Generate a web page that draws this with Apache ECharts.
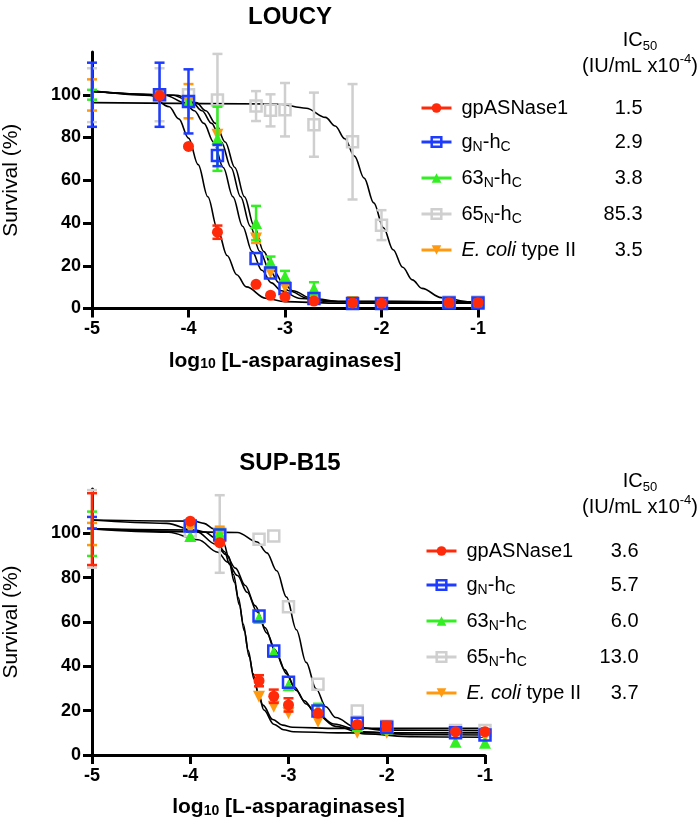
<!DOCTYPE html>
<html><head><meta charset="utf-8">
<script src="https://cdn.jsdelivr.net/npm/echarts@6/dist/echarts.min.js"></script>
<style>html,body{margin:0;padding:0;background:#fff}#c{width:700px;height:827px}</style>
</head><body><div id="c"></div>
<script>
// ---------- data ----------
const seriesNames = ['gpASNase1', 'gN-hC', '63N-hC', '65N-hC', 'E. coli type II'];
const yTicks = [0, 20, 40, 60, 80, 100];
const xTicks = [-5, -4, -3, -2, -1];

// LOUCY (top)
const loucyX = [-5, -4.3, -4, -3.7, -3.3, -3.15, -3, -2.7, -2.3, -2, -1.3, -1];
const loucyRed = [100, 99.6, 75.8, 35.7, 11.3, 6.2, 5.4, 3.5, 2.6, 2.5, 2.7, 2.7];
const loucyRedErr = [0, 0, 0, 3.1, 0, 0, 0, 0, 0, 0, 0, 0];
const loucyBlue = [100, 100, 96.9, 71.6, 23.4, 16.6, 9.3, 4.7, 2.3, 2.3, 2.6, 2.6];
const loucyBlueErr = [15, 15, 15, 5, 0, 0, 0, 0, 0, 0, 0, 0];
const loucyGreen = [100, 100, 97, 79.4, 40, 21.8, 15.1, 9.3, 3, 2.5, 2.7, 2.7];
const loucyGreenErr = [2.3, 0, 0, 15, 8, 2.5, 2.5, 3, 0, 0, 0, 0];
const loucyGrey = [99.8, 100, 100, 97.6, 94.7, 92.7, 93, 86, 78, 39, 3, 3];
const loucyGreyErr = [12.6, 12.4, 0, 21.5, 7, 7.5, 12.5, 15, 27, 7, 0, 0];
const loucyOrange = [99.9, 100, 97, 81.3, 32.7, 16.8, 10.1, 4.5, 3, 2.5, 2.7, 2.7];
const loucyOrangeErr = [7.3, 0, 8, 0, 2, 0, 0, 0, 0, 0, 0, 0];
const loucyIC50 = ['1.5', '2.9', '3.8', '85.3', '3.5'];

// LOUCY fitted curves
const loucyRedCurveX = [-5, -4.4, -4.2, -4.1, -4.0, -3.9, -3.8, -3.7, -3.6, -3.5, -3.4, -3.2, -3.0, -2.5, -1];
const loucyRedCurveY = [102, 99.7, 94.4, 88.7, 79.7, 67.3, 52.3, 37.2, 24.8, 15.8, 10.1, 4.8, 3.2, 2.5, 2.5];
const loucyBlueCurveX = [-5, -4.24, -4.04, -3.94, -3.84, -3.74, -3.64, -3.54, -3.44, -3.34, -3.24, -3.14, -3.04, -2.84, -2.54, -1];
const loucyBlueCurveY = [101.5, 99.8, 96.3, 92.5, 86.6, 77.9, 66.0, 52.3, 38.5, 26.6, 17.9, 12.0, 8.3, 4.7, 3.3, 3.0];
const loucyGreenCurveX = [-5, -4.12, -3.92, -3.82, -3.72, -3.62, -3.52, -3.42, -3.32, -3.22, -3.12, -3.02, -2.92, -2.72, -2.42, -1];
const loucyGreenCurveY = [101.5, 99.8, 96.3, 92.5, 86.6, 77.9, 66.0, 52.3, 38.5, 26.6, 17.9, 12.0, 8.3, 4.7, 3.3, 3.0];
const loucyGreyCurveX = [-5, -3.08, -2.78, -2.58, -2.48, -2.38, -2.28, -2.18, -2.08, -1.98, -1.88, -1.78, -1.68, -1.58, -1.38, -1.08, -1];
const loucyGreyCurveY = [96.3, 95.7, 93.7, 89.4, 85.4, 79.4, 71.3, 61.0, 49.4, 37.8, 27.5, 19.3, 13.4, 9.4, 5.1, 3.1, 3.0];
const loucyOrangeCurveX = [-5, -4.16, -3.96, -3.86, -3.76, -3.66, -3.56, -3.46, -3.36, -3.26, -3.16, -3.06, -2.96, -2.76, -2.46, -1];
const loucyOrangeCurveY = [101.5, 99.8, 96.3, 92.5, 86.6, 77.9, 66.0, 52.3, 38.5, 26.6, 17.9, 12.0, 8.3, 4.7, 3.3, 3.0];

// SUP-B15 (bottom)
const supX = [-5, -4, -3.7, -3.3, -3.15, -3, -2.7, -2.3, -2, -1.3, -1];
const supRed = [101.9, 105.5, 95.8, 33.5, 26.5, 22.6, 18.8, 13.8, 13, 10.5, 10.5];
const supRedErr = [16.2, 0, 0, 2.5, 3, 3, 0, 0, 2, 0, 0];
const supBlue = [104.8, 103.3, 99.2, 62.7, 46.9, 32.8, 19.8, 14.3, 12.5, 10, 9];
const supBlueErr = [2.6, 0, 0, 0, 0, 0, 0, 0, 0, 0, 0];
const supGreen = [99.8, 98.8, 100, 61.8, 46.5, 31.5, 20.6, 13, 12, 6, 5.5];
const supGreenErr = [10, 0, 2, 0, 0, 0, 2.5, 0, 0, 0, 0];
const supGrey = [102, 101, 99.7, 97.3, 98.8, 66.9, 31.9, 19.8, 13, 11, 11];
const supGreyErr = [17.5, 0, 17.5, 0, 0, 0, 0, 0, 0, 0, 0];
const supOrange = [99.7, 102, 99, 26.3, 21.8, 18.8, 15, 10, 10, 9, 8.5];
const supOrangeErr = [5, 0, 4, 0, 0, 0, 0, 0, 0, 0, 0];
const supIC50 = ['3.6', '5.7', '6.0', '13.0', '3.7'];

// SUP-B15 fitted curves
const supRedCurveX = [-5, -3.96, -3.86, -3.76, -3.66, -3.61, -3.56, -3.51, -3.46, -3.41, -3.36, -3.31, -3.26, -3.16, -3.06, -2.96, -2.5, -1];
const supRedCurveY = [106, 105.5, 104.5, 102.0, 95.5, 89.6, 81.4, 70.9, 59, 47.1, 36.6, 28.4, 22.5, 16.0, 13.5, 12.5, 12.0, 12.0];
const supBlueCurveX = [-5, -4.24, -3.94, -3.74, -3.64, -3.54, -3.44, -3.34, -3.24, -3.14, -3.04, -2.94, -2.84, -2.74, -2.54, -2.24, -1.74, -1];
const supBlueCurveY = [106, 104.5, 100.9, 95.1, 90.5, 84.3, 76.5, 67.4, 57.5, 47.6, 38.5, 30.7, 24.5, 19.9, 14.0, 10.5, 9.2, 9.0];
const supGreenCurveX = [-5, -4.22, -3.92, -3.72, -3.62, -3.52, -3.42, -3.32, -3.22, -3.12, -3.02, -2.92, -2.82, -2.72, -2.52, -2.22, -1.72, -1];
const supGreenCurveY = [102, 100.5, 97.1, 91.5, 87.0, 81.0, 73.4, 64.6, 55.0, 45.4, 36.6, 29.1, 23.0, 18.5, 12.9, 9.5, 8.2, 8.0];
const supGreyCurveX = [-5, -3.52, -3.32, -3.22, -3.12, -3.02, -2.92, -2.82, -2.72, -2.62, -2.52, -2.32, -2.02, -1];
const supGreyCurveY = [102, 100.4, 96.1, 91.2, 83.1, 71.2, 56.5, 41.8, 29.9, 21.8, 16.9, 12.6, 11.2, 11.0];
const supOrangeCurveX = [-5, -3.95, -3.85, -3.75, -3.65, -3.60, -3.55, -3.50, -3.45, -3.40, -3.35, -3.30, -3.25, -3.15, -3.05, -2.95, -2.5, -1];
const supOrangeCurveY = [102, 101.5, 100.6, 98.0, 91.7, 86.0, 77.9, 67.7, 56.0, 44.3, 34.1, 26.1, 20.3, 13.9, 11.4, 10.5, 10.0, 10.0];

// ---------- styles ----------
const FONT = 'Liberation Sans, Arial, Helvetica, sans-serif';
const COLORS = ['#ff2a0a', '#1e3cff', '#33ee22', '#cfcfcf', '#ff9a10'];
const SYMBOLS = ['circle', 'rect', 'triangle', 'rect', 'path://M0,0 L20,0 L10,17 Z'];
const SIZES = [11, 11, 12, 11, 12];
const HOLLOW = [false, true, false, true, false];
const DRAW_ORDER = [3, 4, 2, 1, 0];

const panels = [
  { x: loucyX, ys: [loucyRed, loucyBlue, loucyGreen, loucyGrey, loucyOrange],
    errs: [loucyRedErr, loucyBlueErr, loucyGreenErr, loucyGreyErr, loucyOrangeErr],
    cx: [loucyRedCurveX, loucyBlueCurveX, loucyGreenCurveX, loucyGreyCurveX, loucyOrangeCurveX],
    cy: [loucyRedCurveY, loucyBlueCurveY, loucyGreenCurveY, loucyGreyCurveY, loucyOrangeCurveY] },
  { x: supX, ys: [supRed, supBlue, supGreen, supGrey, supOrange],
    errs: [supRedErr, supBlueErr, supGreenErr, supGreyErr, supOrangeErr],
    cx: [supRedCurveX, supBlueCurveX, supGreenCurveX, supGreyCurveX, supOrangeCurveX],
    cy: [supRedCurveY, supBlueCurveY, supGreenCurveY, supGreyCurveY, supOrangeCurveY] }
];

function errRender(color) {
  return function (params, api) {
    const x = api.value(0), y = api.value(1), e = api.value(2);
    if (!e) return null;
    const hi = api.coord([x, y + e]), lo = api.coord([x, y - e]);
    const cw = 5;
    const st = { stroke: color, lineWidth: 2.5 };
    return { type: 'group', children: [
      { type: 'line', shape: { x1: hi[0], y1: hi[1], x2: lo[0], y2: lo[1] }, style: st },
      { type: 'line', shape: { x1: hi[0] - cw, y1: hi[1], x2: hi[0] + cw, y2: hi[1] }, style: st },
      { type: 'line', shape: { x1: lo[0] - cw, y1: lo[1], x2: lo[0] + cw, y2: lo[1] }, style: st }
    ] };
  };
}

const series = [];
panels.forEach((p, gi) => {
  for (let k = 0; k < 5; k++) {
    series.push({
      type: 'line', xAxisIndex: gi, yAxisIndex: gi, silent: true, symbol: 'none',
      smooth: 0.35, smoothMonotone: 'x', z: 2,
      lineStyle: { color: '#000', width: 1.6 },
      data: p.cx[k].map((v, i) => [v, p.cy[k][i]])
    });
  }
  let z = 3;
  DRAW_ORDER.forEach(k => {
    series.push({
      type: 'custom', xAxisIndex: gi, yAxisIndex: gi, silent: true, z: z++,
      encode: { x: 0, y: 1 }, renderItem: errRender(COLORS[k]), clip: false,
      data: p.x.map((v, i) => [v, p.ys[k][i], p.errs[k][i]])
    });
    series.push({
      name: seriesNames[k], type: 'line', xAxisIndex: gi, yAxisIndex: gi, silent: true, z: z++,
      symbol: SYMBOLS[k], symbolSize: SIZES[k], showSymbol: true, clip: false,
      lineStyle: { color: COLORS[k], width: 0, opacity: 0 },
      itemStyle: HOLLOW[k] ? { color: 'rgba(0,0,0,0)', borderColor: COLORS[k], borderWidth: 2.5 }
                           : { color: COLORS[k], borderWidth: 0 },
      data: p.x.map((v, i) => ({ value: [v, p.ys[k][i]], symbolSize: v === -5 ? 0 : SIZES[k] }))
    });
  });
});

const nameRich = [
  '{n|gpASNase1}',
  '{n|g}{sub|N}{n|-h}{sub|C}',
  '{n|63}{sub|N}{n|-h}{sub|C}',
  '{n|65}{sub|N}{n|-h}{sub|C}',
  '{it|E. coli}{n| type II}'
];
const legendRich = {
  n: { fontSize: 20, lineHeight: 24, color: '#000', fontFamily: FONT },
  it: { fontSize: 20, lineHeight: 24, color: '#000', fontStyle: 'italic', fontFamily: FONT },
  sub: { fontSize: 14, lineHeight: 10, verticalAlign: 'bottom', color: '#000', fontFamily: FONT },
  v: { fontSize: 20, lineHeight: 24, color: '#000', align: 'right', fontFamily: FONT }
};
function makeLegend(top, left, width, values) {
  return {
    orient: 'vertical', left: left, top: top, itemWidth: 30, itemHeight: 12, itemGap: 14,
    selectedMode: false,
    data: seriesNames.map((n, k) => ({
      name: n,
      itemStyle: HOLLOW[k] ? { color: 'rgba(0,0,0,0)', borderColor: COLORS[k], borderWidth: 2.5 }
                           : { color: COLORS[k], borderWidth: 0 },
      lineStyle: { color: COLORS[k], width: 3, opacity: 1 }
    })),
    formatter: name => {
      const k = seriesNames.indexOf(name);
      return nameRich[k] + '{v|' + values[k] + '}';
    },
    textStyle: { fontSize: 20, fontFamily: FONT, color: '#000', width: width, padding: [0, 0, 0, 5], rich: legendRich }
  };
}

const headRich = {
  a: { fontSize: 20, lineHeight: 26, color: '#000', fontFamily: FONT, fontWeight: 'normal' },
  s: { fontSize: 13, lineHeight: 10, verticalAlign: 'bottom', color: '#000', fontFamily: FONT, fontWeight: 'normal' },
  p: { fontSize: 13, lineHeight: 10, verticalAlign: 'top', color: '#000', fontFamily: FONT, fontWeight: 'normal' }
};
const headText = '{a|IC}{s|50}\n{a|(IU/mL x10}{p|-4}{a|)}';

function xAxisCfg(gi) {
  return {
    gridIndex: gi, type: 'value', min: -5, max: -1, interval: 1,
    axisLine: { onZero: false, lineStyle: { color: '#000', width: 3 } },
    axisTick: { show: true, inside: false, length: 9, lineStyle: { color: '#000', width: 3 } },
    axisLabel: { color: '#000', fontSize: 18, fontWeight: 'bold', fontFamily: FONT, margin: 12,
                 customValues: xTicks },
    splitLine: { show: false },
    name: 'log{sub|10} [L-asparaginases]', nameLocation: 'middle', nameGap: 42,
    nameTextStyle: { fontSize: 21, fontWeight: 'bold', color: '#000', fontFamily: FONT,
      rich: { sub: { fontSize: 14, fontWeight: 'bold', lineHeight: 10, verticalAlign: 'bottom', fontFamily: FONT, color: '#000' } } }
  };
}
function yAxisCfg(gi) {
  return {
    gridIndex: gi, type: 'value', min: 0, max: 120, interval: 20,
    axisLine: { show: true, onZero: false, lineStyle: { color: '#000', width: 3 } },
    axisTick: { show: true, inside: false, length: 9, lineStyle: { color: '#000', width: 3 }, customValues: yTicks },
    axisLabel: { color: '#000', fontSize: 18, fontWeight: 'bold', fontFamily: FONT, margin: 11, customValues: yTicks },
    splitLine: { show: false },
    name: 'Survival (%)', nameLocation: 'middle', nameGap: 70,
    nameTextStyle: { fontSize: 21, color: '#000', fontFamily: FONT }
  };
}

const option = {
  animation: false,
  backgroundColor: '#fff',
  title: [
    { text: 'LOUCY', left: 285, top: 0, textAlign: 'center', textStyle: { fontSize: 24, fontWeight: 'bold', color: '#000', fontFamily: FONT } },
    { text: 'SUP-B15', left: 285, top: 446, textAlign: 'center', textStyle: { fontSize: 24, fontWeight: 'bold', color: '#000', fontFamily: FONT } },
    { text: headText, left: 635, top: 22, textAlign: 'center', textStyle: { rich: headRich, fontSize: 20, fontFamily: FONT, align: 'center' } },
    { text: headText, left: 635, top: 463, textAlign: 'center', textStyle: { rich: headRich, fontSize: 20, fontFamily: FONT, align: 'center' } }
  ],
  legend: [makeLegend(93, 415, 181, loucyIC50), makeLegend(536, 420, 172, supIC50)],
  grid: [
    { left: 92, right: 222, top: 52, bottom: 518.5, containLabel: false, outerBoundsMode: 'none' },
    { left: 92, right: 215, top: 489, bottom: 72, containLabel: false, outerBoundsMode: 'none' }
  ],
  xAxis: [xAxisCfg(0), xAxisCfg(1)],
  yAxis: [yAxisCfg(0), yAxisCfg(1)],
  series: series
};

const chart = echarts.init(document.getElementById('c'), null, { renderer: 'canvas' });
chart.setOption(option);
</script>
</body></html>
